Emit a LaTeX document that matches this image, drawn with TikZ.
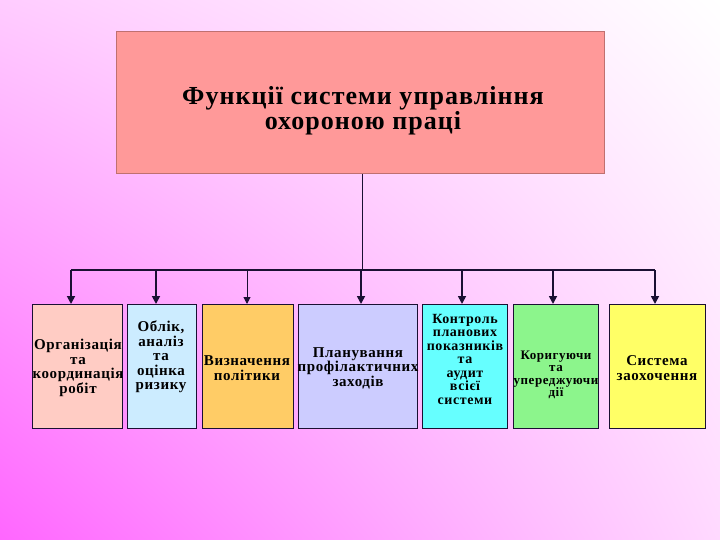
\documentclass[tikz,border=0pt]{standalone}
\usepackage{fontspec}
\setmainfont{Liberation Serif}
\usetikzlibrary{arrows.meta,shadings}
\definecolor{bgUL}{HTML}{FFCCFF}
\definecolor{bgLL}{HTML}{FF66FF}
\definecolor{bgLR}{HTML}{FFD9FF}
\definecolor{linec}{HTML}{1A1033}
\definecolor{topfill}{HTML}{FF9999}
\definecolor{topdraw}{HTML}{C07070}
\definecolor{cA}{HTML}{FFCCC4}
\definecolor{cB}{HTML}{CCECFF}
\definecolor{cC}{HTML}{FFCC66}
\definecolor{cD}{HTML}{CCCCFF}
\definecolor{cE}{HTML}{66FFFF}
\definecolor{cF}{HTML}{8CF58C}
\definecolor{cG}{HTML}{FFFF66}
\begin{document}
\begin{tikzpicture}[x=1pt,y=-1pt,
  box/.style={draw=linec, line width=0.8pt, inner sep=0pt, anchor=north west},
  lbl/.style={font=\bfseries\fontsize{15}{14.5}\selectfont\addfontfeature{LetterSpace=4}, align=center, text=black, inner sep=0pt},
  arr/.style={-{Triangle[width=8pt,length=8pt]}, line width=1.7pt, draw=linec},
  thinarr/.style={-{Triangle[width=7pt,length=7pt]}, line width=1pt, draw=linec}]
\useasboundingbox (0,0) rectangle (720,540);
\shade[upper left=bgUL, upper right=white, lower left=bgLL, lower right=bgLR] (0,0) rectangle (720,540);

% top box
\node[box, draw=topdraw, fill=topfill, minimum width=488, minimum height=142] (top) at (116,31) {};
\node[font=\bfseries\fontsize{26}{25}\selectfont\addfontfeature{LetterSpace=4}, align=center, inner sep=0pt] (title) at (363,111)
  {Функції системи управління\\охороною праці};

% lower boxes
\node[box, fill=cA, minimum width=90, minimum height=124] (b1) at (32,304) {};
\node[box, fill=cB, minimum width=69, minimum height=124] (b2) at (127,304) {};
\node[box, fill=cC, minimum width=91, minimum height=124] (b3) at (202,304) {};
\node[box, fill=cD, minimum width=119, minimum height=124] (b4) at (298,304) {};
\node[box, fill=cE, minimum width=85, minimum height=124] (b5) at (422,304) {};
\node[box, fill=cF, minimum width=85, minimum height=124] (b6) at (513,304) {};
\node[box, fill=cG, minimum width=96, minimum height=124] (b7) at (609,304) {};

\node[lbl] (t1) at (78,368) {Організація\\та\\координація\\робіт};
\node[lbl] (t2) at (161,357) {Облік,\\аналіз\\та\\оцінка\\ризику};
\node[lbl] (t3) at (247,368) {Визначення\\політики};
\node[lbl] (t4) at (358,368) {Планування\\профілактичних\\заходів};
\node[lbl, font=\bfseries\fontsize{14}{13.5}\selectfont\addfontfeature{LetterSpace=4}] (t5) at (465,359) {Контроль\\планових\\показників\\та\\аудит\\всієї\\системи};
\node[lbl, font=\bfseries\fontsize{13}{12.5}\selectfont\addfontfeature{LetterSpace=4}] (t6) at (556,375) {Коригуючи\\та\\упереджуючи\\дії};
\node[lbl] (t7) at (657,368) {Система\\заохочення};

% connectors
\coordinate (j) at (362,270);
\coordinate (a1) at (71,270);
\coordinate (a2) at (156,270);
\coordinate (a3) at (247,270);
\coordinate (a4) at (361,270);
\coordinate (a5) at (462,270);
\coordinate (a6) at (553,270);
\coordinate (a7) at (655,270);
\draw[linec, line width=0.9pt] (top.south -| j) -- (j);
\draw[linec, line width=1.5pt] (a1) -- (a7);
\draw[arr] (a1) -- (a1 |- b1.north);
\draw[arr] (a2) -- (a2 |- b2.north);
\draw[thinarr] (a3) -- (a3 |- b3.north);
\draw[arr] (a4) -- (a4 |- b4.north);
\draw[arr] (a5) -- (a5 |- b5.north);
\draw[arr] (a6) -- (a6 |- b6.north);
\draw[arr] (a7) -- (a7 |- b7.north);
\end{tikzpicture}
\end{document}
